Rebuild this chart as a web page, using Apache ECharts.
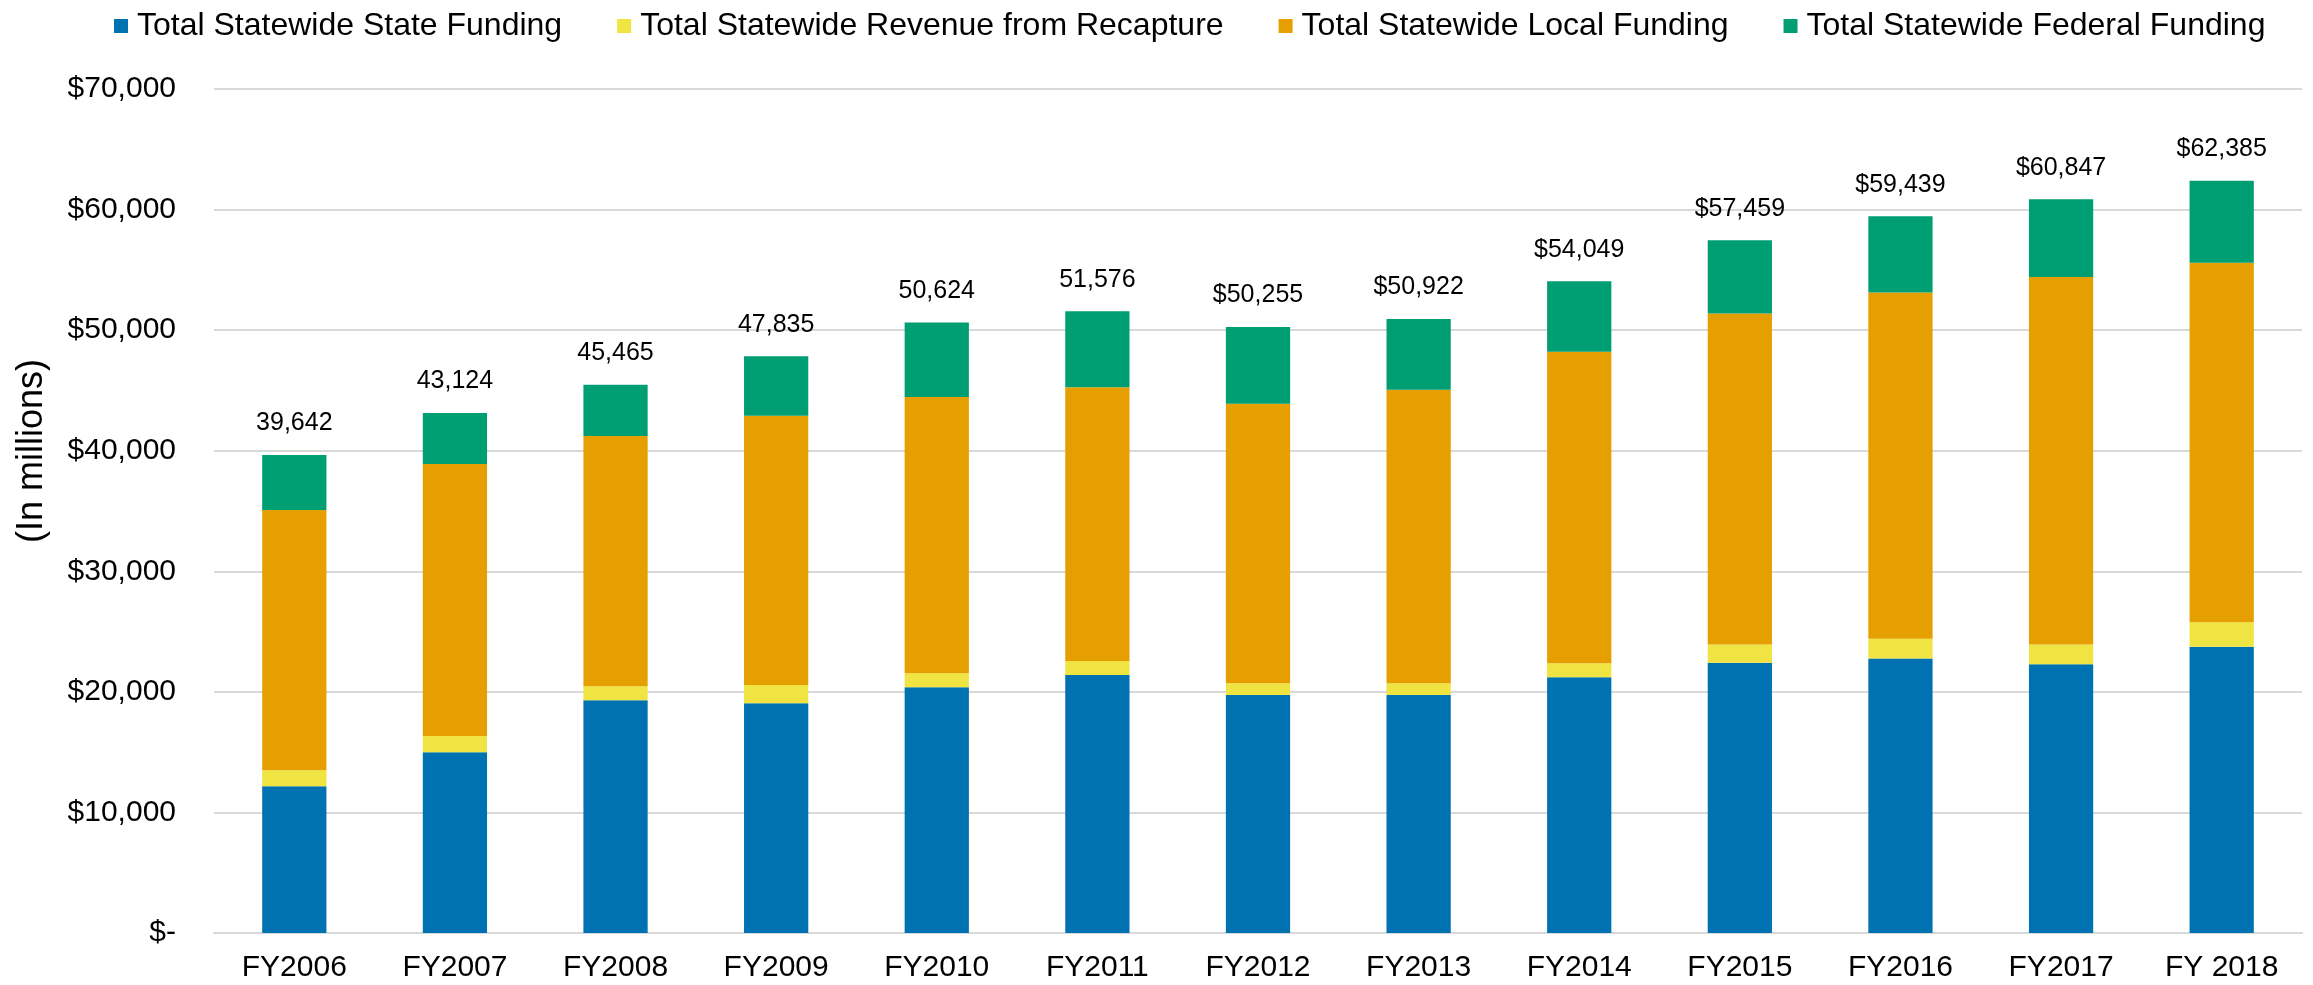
<!DOCTYPE html>
<html>
<head>
<meta charset="utf-8">
<script src="https://cdn.jsdelivr.net/npm/echarts@6/dist/echarts.min.js"></script>
<style>
  html, body { margin: 0; padding: 0; background: #fff; }
  #chart { width: 2313px; height: 985px; }
</style>
</head>
<body>
<div id="chart"></div>
<script>
const years = ['FY2006', 'FY2007', 'FY2008', 'FY2009', 'FY2010', 'FY2011', 'FY2012',
  'FY2013', 'FY2014', 'FY2015', 'FY2016', 'FY2017', 'FY 2018']
const stateFunding = [12170, 15000, 19310, 19048, 20387, 21400, 19732, 19732, 21220, 22413, 22762, 22286, 23746]
const recapture = [1330, 1330, 1160, 1517, 1161, 1160, 982, 982, 1160, 1524, 1651, 1651, 2032]
const localFunding = [21580, 22570, 20750, 22331, 22900, 22694, 23185, 24346, 25834, 27443, 28707, 30476, 29809]
const federalFunding = [4562, 4224, 4245, 4939, 6176, 6322, 6356, 5862, 5835, 6079, 6319, 6434, 6798]
const totalLabels = ['39,642', '43,124', '45,465', '47,835', '50,624', '51,576', '$50,255',
  '$50,922', '$54,049', '$57,459', '$59,439', '$60,847', '$62,385']

const font = 'Liberation Sans, Arial, sans-serif'
const gridColor = '#d9d9d9'

const chart = echarts.init(document.getElementById('chart'))

function barSeries(name, color, data) {
  return {
    name: name,
    type: 'bar',
    stack: 'total',
    barWidth: '40%',
    itemStyle: { color: color },
    data: data
  }
}

const federal = barSeries('Total Statewide Federal Funding', '#009e73', federalFunding)
federal.label = {
  show: true,
  position: 'top',
  distance: 19,
  color: '#000',
  fontFamily: font,
  fontSize: 25,
  formatter: function(p) {
    return totalLabels[p.dataIndex]
  }
}

chart.setOption({
  animation: false,
  textStyle: { fontFamily: font },
  legend: {
    top: 5,
    left: 109,
    itemWidth: 14,
    itemHeight: 14,
    itemGap: 55,
    icon: 'rect',
    textStyle: { fontSize: 32, color: '#000', fontFamily: font, padding: [0, 0, 0, 4] },
    data: ['Total Statewide State Funding', 'Total Statewide Revenue from Recapture',
      'Total Statewide Local Funding', 'Total Statewide Federal Funding']
  },
  grid: {
    left: 214,
    right: 11,
    top: 89,
    bottom: 52
  },
  xAxis: {
    type: 'category',
    data: years,
    axisTick: { show: false },
    axisLine: { lineStyle: { color: gridColor, width: 2 } },
    axisLabel: { color: '#000', fontSize: 30, fontFamily: font, margin: 20 }
  },
  yAxis: {
    type: 'value',
    min: 0,
    max: 70000,
    interval: 10000,
    name: '(In millions)',
    nameLocation: 'middle',
    nameRotate: 90,
    nameGap: 164,
    nameTextStyle: { color: '#000', fontSize: 36, fontFamily: font, padding: [0, 0, 0, 120] },
    axisLine: { show: false },
    axisTick: { show: false },
    splitLine: { lineStyle: { color: gridColor, width: 2 } },
    axisLabel: {
      color: '#000',
      fontSize: 30,
      fontFamily: font,
      margin: 38,
      formatter: function(v) {
        return v === 0 ? '$-' : '$' + v.toLocaleString('en-US')
      }
    }
  },
  series: [
    barSeries('Total Statewide State Funding', '#0072b2', stateFunding),
    barSeries('Total Statewide Revenue from Recapture', '#f0e442', recapture),
    barSeries('Total Statewide Local Funding', '#e69f00', localFunding),
    federal
  ]
})
</script>
</body>
</html>
